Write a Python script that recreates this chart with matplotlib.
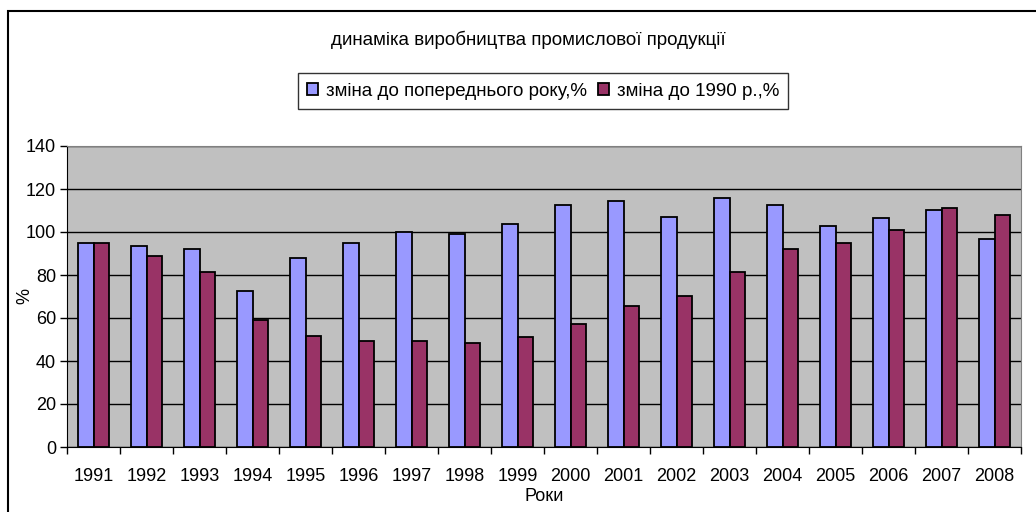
import numpy as np
import matplotlib.pyplot as plt
from matplotlib.patches import Rectangle

plt.rcParams['font.family'] = ['Liberation Sans', 'DejaVu Sans']

# data
years = ['1991', '1992', '1993', '1994', '1995', '1996', '1997', '1998', '1999',
         '2000', '2001', '2002', '2003', '2004', '2005', '2006', '2007', '2008']
prev_year = [95.0, 93.3, 92.1, 72.6, 88.1, 95.0, 100.0, 98.9, 103.9,
             112.7, 114.4, 107.1, 115.8, 112.7, 102.9, 106.4, 110.4, 96.7]
vs_1990 = [95.0, 88.7, 81.4, 58.9, 51.6, 49.3, 49.3, 48.5, 51.0,
           57.3, 65.6, 70.4, 81.4, 92.1, 95.0, 100.9, 111.2, 107.8]

fig = plt.figure(figsize=(10.36, 5.12), dpi=100)
ax = fig.add_axes([67 / 1036, 65 / 512, 954 / 1036, 301 / 512])
ax.set_facecolor('#C0C0C0')

x = np.arange(len(years))
w = 0.29
ax.bar(x - w / 2, prev_year, width=w, color='#9999FF', edgecolor='black',
       linewidth=1.3, label='зміна до попереднього року,%', zorder=3)
ax.bar(x + w / 2, vs_1990, width=w, color='#993366', edgecolor='black',
       linewidth=1.3, label='зміна до 1990 р.,%', zorder=3)

ax.set_xlim(-0.5, len(years) - 0.5)
ax.set_ylim(0, 140)
ax.set_yticks(range(0, 141, 20))
ax.yaxis.grid(True, color='black', linewidth=1, zorder=1)
ax.set_axisbelow(True)

ax.set_xticks(x)
ax.set_xticklabels(years, fontsize=13)
ax.set_xticks(np.arange(-0.5, len(years), 1), minor=True)
ax.tick_params(axis='x', which='major', length=0, pad=15)
ax.tick_params(axis='x', which='minor', length=5, width=1, direction='out')
ax.tick_params(axis='y', length=5, width=1, labelsize=13, pad=3)

for s in ['top', 'right']:
    ax.spines[s].set_color('#808080')
ax.spines['left'].set_color('black')
ax.spines['bottom'].set_color('black')

ax.set_xlabel('Роки', fontsize=13, labelpad=2)
ax.set_ylabel('%', fontsize=13)
ax.yaxis.set_label_coords(-(67 - 33) / 954, 0.5)

fig.text(528 / 1036, 1 - 40 / 512, 'динаміка виробництва промислової продукції',
         ha='center', va='center', fontsize=13.5)

leg = fig.legend(loc='center', bbox_to_anchor=(543 / 1036, 1 - 91 / 512), ncol=2,
                 fontsize=13.5, frameon=True, fancybox=False, handlelength=0.6,
                 handleheight=0.6, handletextpad=0.4, columnspacing=0.6,
                 borderpad=0.5, edgecolor='black')
leg.get_frame().set_linewidth(1)

fig.patches.append(Rectangle((8 / 1036, -0.1), 1.1, 1.1 - 11 / 512,
                             transform=fig.transFigure, fill=False,
                             edgecolor='black', linewidth=1.5))

fig.savefig('out.png', dpi=100)
